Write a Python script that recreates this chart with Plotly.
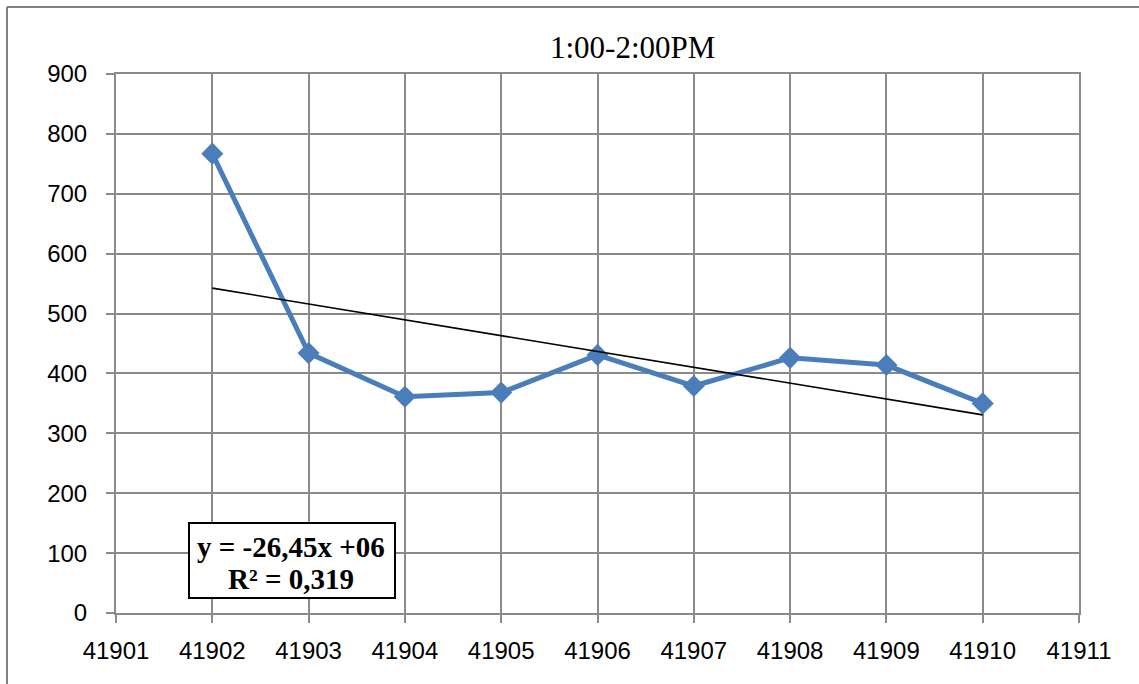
import numpy as np
import plotly.graph_objects as go

# Daily counts for the 1:00-2:00PM slot (Excel date serials)
days = [41902, 41903, 41904, 41905, 41906, 41907, 41908, 41909, 41910]
counts = [767, 434, 361, 368, 431, 379, 426, 414, 350]

x_ticks = list(range(41901, 41912))
y_ticks = list(range(0, 1000, 100))

title_text = "1:00-2:00PM"
eq_line = "y = -26,45x +06"
r2_line = "R² = 0,319"

# Linear trendline fitted to the series
slope, intercept = np.polyfit(days, counts, 1)
trend_x = [days[0], days[-1]]
trend_y = [slope * d + intercept for d in trend_x]

grid_col = "#8a8a8a"
serif = "Liberation Serif, Times New Roman, serif"

fig = go.Figure()
fig.add_trace(go.Scatter(
    x=days, y=counts, mode="lines+markers",
    line=dict(color="#4a7ebb", width=5),
    marker=dict(symbol="diamond", size=17, color="#4a7ebb"),
    showlegend=False, hoverinfo="skip",
))
fig.add_trace(go.Scatter(
    x=trend_x, y=trend_y, mode="lines",
    line=dict(color="black", width=1.6),
    showlegend=False, hoverinfo="skip",
))

fig.update_layout(
    width=1139, height=684,
    margin=dict(l=116, r=60, t=74, b=71),
    paper_bgcolor="white", plot_bgcolor="white",
    font=dict(family="Liberation Sans, Arial, sans-serif", size=24, color="black"),
    xaxis=dict(
        range=[41901, 41911], tickvals=x_ticks, tickformat="d",
        showgrid=True, gridcolor=grid_col, gridwidth=2,
        showline=True, linecolor=grid_col, linewidth=2, mirror=True,
        ticks="outside", ticklen=8, tickwidth=2, tickcolor=grid_col,
        ticklabelstandoff=7, zeroline=False,
    ),
    yaxis=dict(
        range=[0, 900], tickvals=y_ticks,
        showgrid=True, gridcolor=grid_col, gridwidth=2,
        showline=True, linecolor=grid_col, linewidth=2, mirror=True,
        ticks="outside", ticklen=8, tickwidth=2, tickcolor=grid_col,
        ticklabelstandoff=14, zeroline=False,
    ),
    annotations=[
        dict(
            text=title_text, xref="paper", yref="paper",
            x=0.536, y=1.05, xanchor="center", yanchor="middle",
            showarrow=False,
            font=dict(family=serif, size=31, color="black"),
        ),
        dict(
            text="<b>" + eq_line + "</b>", xref="paper", yref="paper",
            x=0.182, y=0.123, xanchor="center", yanchor="middle",
            showarrow=False,
            font=dict(family=serif, size=29, color="black"),
        ),
        dict(
            text="<b>" + r2_line + "</b>", xref="paper", yref="paper",
            x=0.182, y=0.064, xanchor="center", yanchor="middle",
            showarrow=False,
            font=dict(family=serif, size=29, color="black"),
        ),
    ],
    shapes=[
        # equation box
        dict(type="rect", xref="paper", yref="paper",
             x0=0.0758, x1=0.2897, y0=0.0278, y1=0.167,
             fillcolor="white", line=dict(color="black", width=2), layer="above"),
        # chart-area outline (left and top edges)
        dict(type="line", xref="paper", yref="paper",
             x0=-0.1132, x1=-0.1132, y0=-0.14, y1=1.1243,
             line=dict(color="#7f7f7f", width=2)),
        dict(type="line", xref="paper", yref="paper",
             x0=-0.1132, x1=1.07, y0=1.1243, y1=1.1243,
             line=dict(color="#7f7f7f", width=2)),
    ],
)

fig.write_html("out.html")
